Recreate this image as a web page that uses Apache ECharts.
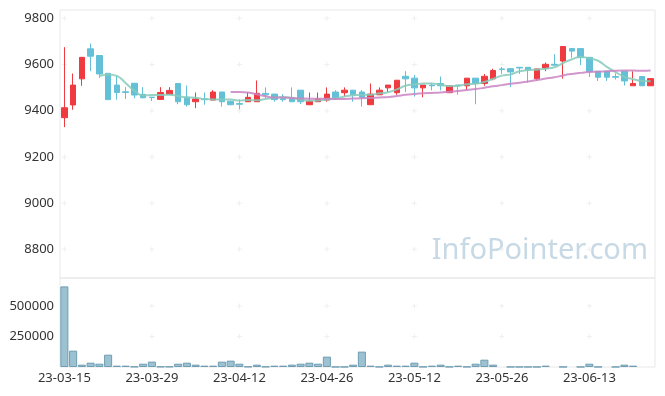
<!DOCTYPE html>
<html>
<head>
<meta charset="utf-8">
<script src="https://cdn.jsdelivr.net/npm/echarts@6/dist/echarts.min.js"></script>
<style>
html,body{margin:0;padding:0;background:#fff;}
#c{width:665px;height:396px;}
</style>
</head>
<body>
<div id="c"></div>
<script>
const dates = [
 '23-03-15','23-03-16','23-03-17','23-03-20','23-03-21','23-03-22','23-03-23','23-03-24','23-03-27','23-03-28',
 '23-03-29','23-03-30','23-03-31','23-04-03','23-04-04','23-04-05','23-04-06','23-04-07','23-04-10','23-04-11',
 '23-04-12','23-04-13','23-04-14','23-04-17','23-04-18','23-04-19','23-04-20','23-04-21','23-04-24','23-04-25',
 '23-04-26','23-04-27','23-04-28','23-05-02','23-05-03','23-05-04','23-05-08','23-05-09','23-05-10','23-05-11',
 '23-05-12','23-05-15','23-05-16','23-05-17','23-05-18','23-05-19','23-05-22','23-05-23','23-05-24','23-05-25',
 '23-05-26','23-05-30','23-05-31','23-06-01','23-06-02','23-06-05','23-06-07','23-06-08','23-06-09','23-06-12',
 '23-06-13','23-06-14','23-06-15','23-06-16','23-06-19','23-06-20','23-06-21','23-06-22'
];
const opens = [
 9370,9425,9538,9668,9639,9562,9511,9482,9519,9471,
 9459,9449,9471,9518,9459,9439,9451,9446,9481,9441,
 9431,9439,9439,9475,9472,9452,9451,9489,9426,9439,
 9446,9481,9478,9489,9481,9426,9469,9499,9478,9549,
 9541,9499,9511,9518,9478,9511,9508,9541,9518,9538,
 9581,9582,9588,9588,9538,9585,9601,9615,9669,9669,
 9631,9571,9571,9548,9571,9508,9548,9508
];
const closes = [
 9413,9511,9631,9636,9559,9448,9479,9479,9468,9456,
 9457,9479,9488,9439,9426,9451,9448,9481,9439,9426,
 9428,9458,9475,9469,9448,9448,9439,9439,9442,9451,
 9472,9456,9489,9469,9458,9472,9489,9511,9532,9538,
 9499,9511,9508,9508,9508,9508,9541,9518,9549,9574,
 9578,9568,9585,9576,9581,9601,9597,9678,9658,9631,
 9570,9545,9545,9545,9529,9518,9508,9539
];
const lows = [
 9329,9404,9508,9571,9542,9448,9448,9451,9454,9454,
 9442,9449,9471,9428,9418,9411,9426,9446,9418,9424,
 9406,9439,9439,9454,9439,9439,9439,9429,9426,9439,
 9439,9449,9461,9439,9418,9426,9469,9481,9469,9481,
 9461,9458,9488,9488,9478,9469,9488,9428,9508,9532,
 9559,9502,9559,9521,9529,9571,9597,9539,9629,9597,
 9546,9529,9529,9535,9509,9508,9508,9508
];
const highs = [
 9675,9561,9633,9691,9639,9562,9551,9502,9519,9502,
 9459,9502,9502,9518,9509,9479,9479,9489,9481,9443,
 9449,9479,9531,9501,9472,9472,9501,9489,9479,9479,
 9501,9489,9501,9489,9489,9518,9501,9511,9532,9571,
 9555,9511,9521,9548,9508,9511,9541,9541,9559,9582,
 9589,9582,9589,9588,9581,9609,9645,9678,9669,9669,
 9631,9571,9571,9562,9571,9571,9548,9539
];
const volumes = [
 661000,134000,19000,35500,27000,101000,11000,11000,3000,27000,
 44000,3000,3000,27000,35500,19000,11000,11000,44000,52000,
 27000,3000,19000,3000,11000,11000,19000,27000,35500,27000,
 85000,1000,1000,19000,126000,11000,2000,19000,11000,11000,
 35500,2000,11000,19000,2000,11000,2000,27000,60000,19000,
 0,1000,1000,1000,1000,11000,0,1000,0,1000,
 27000,1000,0,1000,19000,11000,0,0
];
const priceTicks = [8800, 9000, 9200, 9400, 9600, 9800];
const volumeTicks = [250000, 500000];
const labelStep = 10;

function movingAverage(arr, n) {
  return arr.map((v, i) => {
    if (i < n - 1) return '-';
    let s = 0;
    for (let k = i - n + 1; k <= i; k++) s += arr[k];
    return +(s / n).toFixed(2);
  });
}

const candleData = dates.map((d, i) => [opens[i], closes[i], lows[i], highs[i]]);
const ma5 = movingAverage(closes, 5);
const ma20 = movingAverage(closes, 20);
const volumeData = volumes.map(v => ({value: v, itemStyle: v === 0 ? {borderWidth: 0} : undefined}));

const crossPriceData = [];
const crossVolData = [];
for (let i = 0; i < dates.length; i += labelStep) {
  priceTicks.forEach(t => crossPriceData.push([i, t]));
  volumeTicks.forEach(t => crossVolData.push([i, t]));
}

const plusPath = 'path://M1.6,0H2.4V1.6H4V2.4H2.4V4H1.6V2.4H0V1.6H1.6Z';
const FONT = '"Noto Sans", "Open Sans", sans-serif';
const plain = v => String(v);

const chart = echarts.init(document.getElementById('c'), null, {renderer: 'canvas'});
chart.setOption({
  animation: false,
  backgroundColor: '#fff',
  grid: [
    {left: 60, right: 10, top: 10, height: 268, show: true, borderColor: '#e8e8e8', borderWidth: 1, containLabel: false},
    {left: 60, right: 10, top: 278, height: 89, show: true, borderColor: '#e8e8e8', borderWidth: 1, containLabel: false}
  ],
  graphic: [{
    type: 'text', right: 17, top: 236, z: 0, silent: true,
    style: {text: 'InfoPointer.com', font: '29px "Noto Sans", sans-serif', fill: '#c6d9e5'}
  }],
  xAxis: [
    {type: 'category', gridIndex: 0, data: dates, boundaryGap: true,
     axisLine: {show: false}, axisTick: {show: false}, axisLabel: {show: false}, splitLine: {show: false}},
    {type: 'category', gridIndex: 1, data: dates, boundaryGap: true,
     axisLine: {show: false}, axisTick: {show: false}, splitLine: {show: false},
     axisLabel: {interval: labelStep - 1, color: '#333', fontSize: 13, fontFamily: FONT, margin: 5}}
  ],
  yAxis: [
    {type: 'value', gridIndex: 0, min: 8676, max: 9836, splitNumber: 5,
     axisLine: {show: false}, axisTick: {show: false}, splitLine: {show: false},
     axisLabel: {color: '#333', fontSize: 13, fontFamily: FONT, margin: 6, formatter: plain, showMinLabel: false, showMaxLabel: false}},
    {type: 'value', gridIndex: 1, min: 0, max: 730000, interval: 250000,
     axisLine: {show: false}, axisTick: {show: false}, splitLine: {show: false},
     axisLabel: {color: '#333', fontSize: 13, fontFamily: FONT, margin: 6, formatter: plain, showMinLabel: false, showMaxLabel: false}}
  ],
  series: [
    {type: 'scatter', xAxisIndex: 0, yAxisIndex: 0, data: crossPriceData, symbol: plusPath, symbolSize: 5,
     itemStyle: {color: '#ebebeb'}, silent: true, z: 1},
    {type: 'scatter', xAxisIndex: 1, yAxisIndex: 1, data: crossVolData, symbol: plusPath, symbolSize: 5,
     itemStyle: {color: '#ebebeb'}, silent: true, z: 1},
    {type: 'candlestick', xAxisIndex: 0, yAxisIndex: 0, data: candleData, barWidth: 6, z: 3,
     itemStyle: {color: '#ef3a3f', color0: '#63c0d7', borderColor: '#ef3a3f', borderColor0: '#63c0d7', borderWidth: 1}},
    {type: 'line', xAxisIndex: 0, yAxisIndex: 0, data: ma5, smooth: true, showSymbol: false, z: 4,
     lineStyle: {color: '#86cbbb', width: 2, opacity: 0.85}},
    {type: 'line', xAxisIndex: 0, yAxisIndex: 0, data: ma20, smooth: true, showSymbol: false, z: 4,
     lineStyle: {color: '#c985c3', width: 2, opacity: 0.85}},
    {type: 'bar', xAxisIndex: 1, yAxisIndex: 1, data: volumeData, barWidth: '92%', z: 3,
     itemStyle: {color: '#9cc2d2', borderColor: '#6f9db3', borderWidth: 1}}
  ]
});
</script>
</body>
</html>
